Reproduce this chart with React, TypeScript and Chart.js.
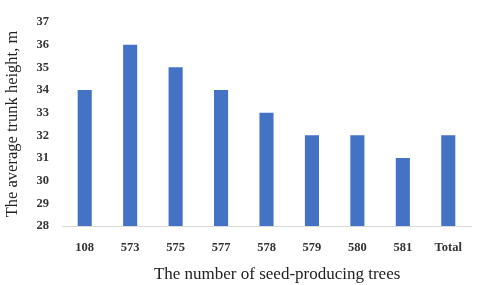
import React, { useEffect, useRef } from "react";
import { Chart, registerables } from "chart.js";

Chart.register(...registerables);

const categories = ["108", "573", "575", "577", "578", "579", "580", "581", "Total"];
const heights = [34, 36, 35, 34, 33, 32, 32, 31, 32];
const yMin = 28;
const yMax = 37;
const xTitle = "The number of seed-producing trees";
const yTitle = "The average trunk height, m";

const SERIF = '"Liberation Serif", "Times New Roman", serif';

export default function App() {
  const ref = useRef<HTMLCanvasElement | null>(null);

  useEffect(() => {
    if (!ref.current) return;
    const chart = new Chart(ref.current, {
      type: "bar",
      data: {
        labels: categories,
        datasets: [
          {
            data: heights,
            backgroundColor: "#4472C4",
            borderWidth: 0,
            barPercentage: 0.31,
            categoryPercentage: 1,
          },
        ],
      },
      options: {
        responsive: false,
        animation: false,
        layout: { padding: { top: 22, right: 9, bottom: 0, left: 0 } },
        plugins: {
          legend: { display: false },
          tooltip: { enabled: false },
        },
        scales: {
          x: {
            offset: true,
            grid: { display: false, drawTicks: false },
            border: { display: true, color: "#d9d9d9", width: 1 },
            ticks: {
              padding: 14,
              color: "#333",
              font: { family: SERIF, size: 12.5, weight: "bold" },
              maxRotation: 0,
              autoSkip: false,
            },
            title: {
              display: true,
              text: "     " + xTitle,
              color: "#222",
              font: { family: SERIF, size: 17 },
              padding: { top: 0, bottom: 0 },
            },
            afterFit: (s: any) => {
              s.height = 59;
            },
          },
          y: {
            min: yMin,
            max: yMax,
            grid: { display: false, drawTicks: false },
            border: { display: false },
            ticks: {
              stepSize: 1,
              padding: 13,
              color: "#333",
              font: { family: SERIF, size: 12.5, weight: "bold" },
            },
            title: {
              display: true,
              text: yTitle,
              color: "#222",
              font: { family: SERIF, size: 16.5 },
              padding: { top: 3, bottom: 0 },
            },
            afterFit: (s: any) => {
              s.width = 62;
            },
          },
        },
      },
    });
    return () => chart.destroy();
  }, []);

  return (
    <div style={{ position: "absolute", left: 0, top: 0, width: 480, height: 285, background: "#fff" }}>
      <canvas ref={ref} width={480} height={285} style={{ display: "block" }} />
    </div>
  );
}
